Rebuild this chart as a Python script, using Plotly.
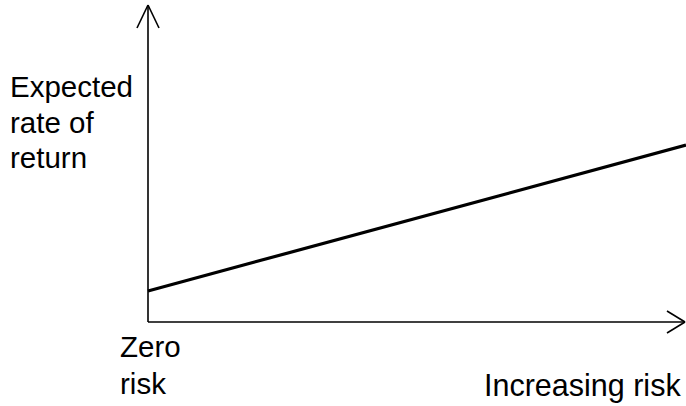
import plotly.graph_objects as go

# Data
risk = [0.0, 1.0]
expected_return = [0.098, 0.558]
y_label_lines = ["Expected", "rate of", "return"]
x_origin_lines = ["Zero", "risk"]
x_end_label = "Increasing risk"

W, H = 686, 406
X0_PX, Y0_PX = 148, 322          # origin in pixels
X_UNIT, Y_UNIT = 538.0, 317.0    # pixels per data unit

def px_x(px):
    return (px - X0_PX) / X_UNIT

def px_y(py):
    return (Y0_PX - py) / Y_UNIT

FONT = "Liberation Sans, Arial, Helvetica, sans-serif"

fig = go.Figure()
fig.add_trace(go.Scatter(x=risk, y=expected_return, mode="lines",
                         line=dict(color="black", width=3.2),
                         hoverinfo="skip", showlegend=False))

shapes = []
lw = 1.6
# y axis
shapes.append(dict(type="line", x0=0, y0=0, x1=0, y1=px_y(5), line=dict(color="black", width=lw)))
shapes.append(dict(type="line", x0=px_x(137), y0=px_y(28), x1=0, y1=px_y(5), line=dict(color="black", width=lw)))
shapes.append(dict(type="line", x0=px_x(159), y0=px_y(28), x1=0, y1=px_y(5), line=dict(color="black", width=lw)))
# x axis
shapes.append(dict(type="line", x0=0, y0=0, x1=px_x(685), y1=0, line=dict(color="black", width=lw)))
shapes.append(dict(type="line", x0=px_x(667), y0=px_y(311), x1=px_x(685), y1=0, line=dict(color="black", width=lw)))
shapes.append(dict(type="line", x0=px_x(667), y0=px_y(333), x1=px_x(685), y1=0, line=dict(color="black", width=lw)))

ann = []
fs = 29.5
for i, t in enumerate(y_label_lines):
    ann.append(dict(x=px_x(8), y=px_y(98 + i * 35.5), text=t, showarrow=False,
                    xanchor="left", yanchor="bottom", yshift=-7,
                    font=dict(family=FONT, size=fs, color="black")))
for i, t in enumerate(x_origin_lines):
    ann.append(dict(x=px_x(118), y=px_y(358 + i * 37), text=t, showarrow=False,
                    xanchor="left", yanchor="bottom", yshift=-7,
                    font=dict(family=FONT, size=fs, color="black")))
ann.append(dict(x=px_x(683), y=px_y(398), text=x_end_label, showarrow=False,
                xanchor="right", yanchor="bottom", yshift=-7,
                font=dict(family=FONT, size=30.5, color="black")))

fig.update_layout(
    width=W, height=H,
    margin=dict(l=0, r=0, t=0, b=0),
    paper_bgcolor="white", plot_bgcolor="white",
    xaxis=dict(range=[px_x(0), px_x(W)], visible=False, fixedrange=True),
    yaxis=dict(range=[px_y(H), px_y(0)], visible=False, fixedrange=True),
    shapes=shapes, annotations=ann,
)

fig.write_html("out.html", config=dict(displayModeBar=False),
               post_script="document.body.style.margin='0';document.body.style.overflow='hidden';")
